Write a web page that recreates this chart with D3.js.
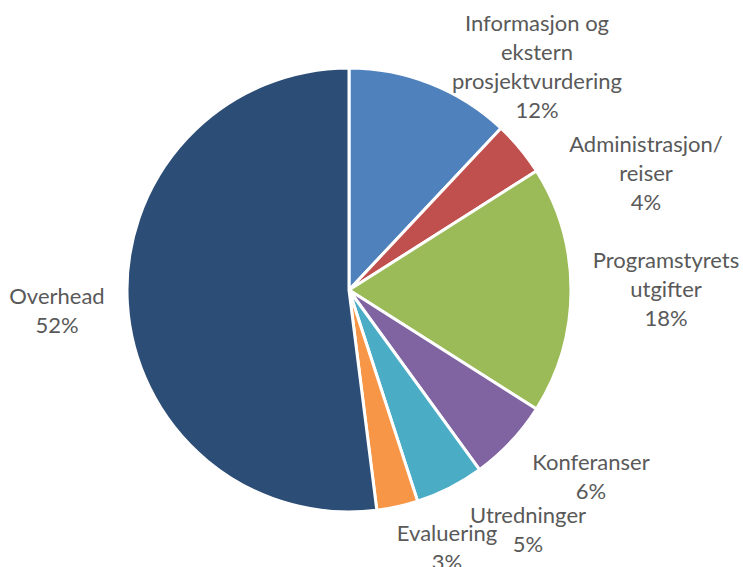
<!DOCTYPE html>
<html>
<head>
<meta charset="utf-8">
<script src="https://cdn.jsdelivr.net/npm/d3@7"></script>
<style>
  body { margin: 0; background: #fff; }
  text { font-family: Lato, "Open Sans", sans-serif; fill: #595959; }
</style>
</head>
<body>
<div id="chart"></div>
<script>
// data
var categories = ["Informasjon og ekstern prosjektvurdering", "Administrasjon/ reiser",
  "Programstyrets utgifter", "Konferanser", "Utredninger", "Evaluering", "Overhead"];
var values = [12, 4, 18, 6, 5, 3, 52];
var colors = ["#4F81BD", "#C0504D", "#9BBB59", "#8064A2", "#4BACC6", "#F79646", "#2C4D75"];

// label lines and where each label block sits (centre x, first line y)
var labelLines = [
  ["Informasjon og", "ekstern", "prosjektvurdering"],
  ["Administrasjon/", "reiser"],
  ["Programstyrets", "utgifter"],
  ["Konferanser"],
  ["Utredninger"],
  ["Evaluering"],
  ["Overhead"]
];
var labelPos = [[537, 22], [646, 143], [666, 259], [591, 461], [528, 514], [447, 532], [57, 295]];

var w = 743, h = 567;
var cx = 349, cy = 290, r = 222;
var lineH = 29;

var svg = d3.select("#chart").append("svg")
    .attr("width", w)
    .attr("height", h);

var pie = d3.pie().sort(null).value(function(d) { return d; });
var arc = d3.arc().innerRadius(0).outerRadius(r);

var g = svg.append("g").attr("transform", "translate(" + cx + "," + cy + ")");

g.selectAll("path")
    .data(pie(values))
    .enter().append("path")
    .attr("d", arc)
    .attr("fill", function(d, i) { return colors[i]; })
    .attr("stroke", "#fff")
    .attr("stroke-width", 3)
    .attr("stroke-linejoin", "round");

var total = d3.sum(values);
var fmt = function(v) { return Math.round(v / total * 100) + "%"; };

var labels = svg.append("g").selectAll("text")
    .data(values)
    .enter().append("text")
    .attr("text-anchor", "middle")
    .attr("font-size", 22)
    .attr("dominant-baseline", "central");

labels.each(function(v, i) {
  var t = d3.select(this);
  var lines = labelLines[i].concat([fmt(v)]);
  lines.forEach(function(s, k) {
    t.append("tspan")
      .attr("x", labelPos[i][0])
      .attr("y", labelPos[i][1] + k * lineH)
      .text(s);
  });
});
</script>
</body>
</html>
